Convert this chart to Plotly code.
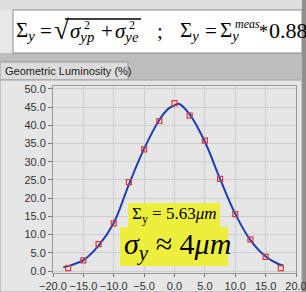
import plotly.graph_objects as go

# ---- data ----
meas_x = [-17.5, -15.0, -12.5, -10.0, -7.5, -5.0, -2.5, 0.0, 2.5, 5.0, 7.5, 10.0, 12.5, 15.0, 17.5]
meas_y = [0.8, 2.9, 7.4, 13.1, 24.4, 33.4, 41.2, 46.1, 42.7, 35.8, 25.3, 15.6, 8.7, 3.9, 0.8]

fit_x = [-18.3, -17.0, -15.0, -12.5, -10.0, -7.5, -5.0, -2.5, -1.0, 0.0, 0.8, 2.5, 5.0, 7.5, 10.0, 12.5, 15.0, 17.0, 17.9]
fit_y = [1.0, 1.6, 3.0, 7.0, 13.2, 23.8, 33.6, 41.5, 44.6, 45.5, 45.9, 43.0, 35.5, 25.3, 15.7, 8.5, 4.0, 2.0, 1.5]

x_ticks = [-20, -15, -10, -5, 0, 5, 10, 15, 20]
y_ticks = [0, 5, 10, 15, 20, 25, 30, 35, 40, 45, 50]

W, H = 306, 292
ML, MR, MT, MB = 53, 10, 86, 19
PW, PH = W - ML - MR, H - MT - MB


def px(x):
    return (x - ML) / PW


def py(y):
    return (H - MB - y) / PH


fig = go.Figure()
fig.add_trace(go.Scatter(x=fit_x, y=fit_y, mode="lines", line=dict(color="#1d3fb5", width=2, shape="spline"),
                         hoverinfo="skip", showlegend=False))
fig.add_trace(go.Scatter(x=meas_x, y=meas_y, mode="markers",
                         marker=dict(symbol="square-open", size=5, color="#d83a3a", line=dict(width=1.2)),
                         showlegend=False))

shapes = []


def rect(x0, y0, x1, y1, fill, line=None, layer="below", lw=1):
    shapes.append(dict(type="rect", xref="paper", yref="paper", x0=px(x0), x1=px(x1), y0=py(y1), y1=py(y0),
                       fillcolor=fill, line=dict(color=line or fill, width=lw if line else 0), layer=layer))


# top region
rect(0, 0, W, 80, "#bdbdbd")
rect(0, 0, W, 10, "#dedede")
rect(0, 10, 13, 53, "#e8e8e8")
rect(13, 10, 302, 53, "#ffffff", line="#8a8a8a")
rect(302, 0, W, H, "#8f8f8f")
# tab
rect(0, 62, 128, 80, "#dcdcdc", line="#9a9a9a")
# panel
rect(0, 80, 302, H, "#e6e6e6", line="#a0a0a0")
# yellow boxes
rect(128, 203, 220, 228, "#eeee3c", layer="above")
rect(120, 227, 228, 266, "#eeee3c", layer="above")
# radical bar
shapes.append(dict(type="line", xref="paper", yref="paper", x0=px(65), x1=px(141), y0=py(19), y1=py(19),
                   line=dict(color="black", width=1.3), layer="above"))

ann = []


def text(x, y, s, size, family="Liberation Serif", color="black"):
    ann.append(dict(xref="paper", yref="paper", x=px(x), y=py(y), text=s, showarrow=False, xanchor="left",
                    yanchor="middle", font=dict(family=family, size=size, color=color)))


FS = 21
text(14, 31, "Σ<sub><i>y</i></sub>", FS)
text(38, 31, "=", FS)
text(52, 30, "√", 27)
text(68, 32, "<i>σ</i><sub><i>yp</i></sub>", FS)
text(82, 25, "2", 12)
text(99, 31, "+", FS)
text(113, 32, "<i>σ</i><sub><i>ye</i></sub>", FS)
text(127, 25, "2", 12)
text(155, 31, ";", FS)
text(178, 31, "Σ<sub><i>y</i></sub>", FS)
text(203, 31, "=", FS)
text(218, 31, "Σ<sub><i>y</i></sub>", FS)
text(233, 24, "<i>meas</i>", 12)
text(257, 32, "*", 18)
text(267, 31, "0.88", 22)

text(3, 71, "Geometric Luminosity (%)", 11, family="Liberation Sans", color="#222")

text(130, 215, "Σ<sub>y</sub> = 5.63<i>μm</i>", 17)
text(122, 246, "<i>σ</i><sub><i>y</i></sub> ≈ 4<i>μm</i>", 30)

fig.update_layout(
    width=W, height=H, autosize=False,
    margin=dict(l=ML, r=MR, t=MT, b=MB, autoexpand=False),
    paper_bgcolor="#e6e6e6", plot_bgcolor="white",
    shapes=shapes, annotations=ann, showlegend=False,
)
fig.update_xaxes(range=[-20, 20], tickvals=x_ticks, tickformat=".1f", showgrid=True, gridcolor="#cdcdcd",
                 gridwidth=1, zeroline=False, ticks="outside", ticklen=3, tickcolor="#777", tickangle=0,
                 automargin=False, showline=True, linecolor="#9a9a9a", mirror=True, ticklabeloverflow="allow",
                 tickfont=dict(family="Liberation Sans", size=11, color="#333"))
fig.update_yaxes(range=[-0.55, 50.82], tickvals=y_ticks, tickformat=".1f", showgrid=True, gridcolor="#cdcdcd",
                 gridwidth=1, zeroline=False, ticks="outside", ticklen=4, tickcolor="#777",
                 automargin=False, showline=True, linecolor="#9a9a9a", mirror=True, ticklabeloverflow="allow",
                 tickfont=dict(family="Liberation Sans", size=11, color="#333"))

fig.write_html("out.html", config={"displayModeBar": False},
               post_script="document.body.style.margin='0';document.body.style.overflow='hidden';")
